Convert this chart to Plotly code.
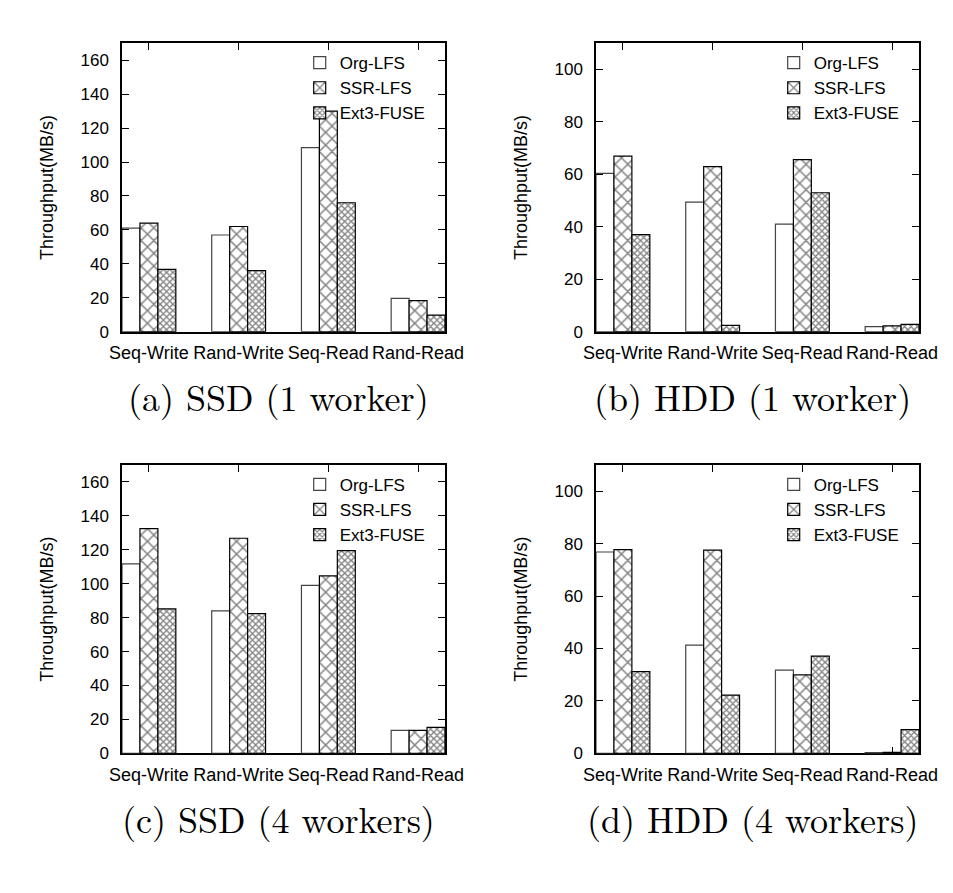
import plotly.graph_objects as go

categories = ["Seq-Write", "Rand-Write", "Seq-Read", "Rand-Read"]
series_names = ["Org-LFS", "SSR-LFS", "Ext3-FUSE"]

# throughput (MB/s) per panel, one list per series
ssd_1_org = [61, 57, 108.5, 19.6]
ssd_1_ssr = [64, 62, 130, 18.3]
ssd_1_ext3 = [36.7, 36, 76, 9.8]

hdd_1_org = [60.4, 49.4, 41, 1.9]
hdd_1_ssr = [67, 63, 65.6, 2.2]
hdd_1_ext3 = [37, 2.4, 53, 2.8]

ssd_4_org = [111.7, 84, 99, 13.5]
ssd_4_ssr = [132.5, 126.8, 104.6, 13.5]
ssd_4_ext3 = [85.2, 82.4, 119.5, 15.3]

hdd_4_org = [76.8, 41.3, 31.7, 0.3]
hdd_4_ssr = [77.7, 77.5, 29.9, 0.4]
hdd_4_ext3 = [31.2, 22.2, 37.1, 9]

captions = ["(a) SSD (1 worker)", "(b) HDD (1 worker)",
            "(c) SSD (4 workers)", "(d) HDD (4 workers)"]
y_max = [170, 110, 170, 110]
y_ticks_top = [160, 100, 160, 100]

panels = [
    (ssd_1_org, ssd_1_ssr, ssd_1_ext3),
    (hdd_1_org, hdd_1_ssr, hdd_1_ext3),
    (ssd_4_org, ssd_4_ssr, ssd_4_ext3),
    (hdd_4_org, hdd_4_ssr, hdd_4_ext3),
]

W, H = 953, 893
x_doms = [(122 / W, 445 / W), (596 / W, 919 / W)]
y_doms = [(1 - 331.7 / H, 1 - 43.3 / H), (1 - 753.3 / H, 1 - 465 / H)]

patterns = [
    dict(shape=""),
    dict(shape="x", size=9, solidity=0.3, fgcolor="black", bgcolor="white"),
    dict(shape="x", size=4.5, solidity=0.5, fgcolor="black", bgcolor="white"),
]
line_colors = ["#444", "black", "black"]

sans = "Liberation Sans, Arial, sans-serif"

fig = go.Figure()
layout = dict(
    width=W, height=H,
    margin=dict(l=0, r=0, t=0, b=0),
    paper_bgcolor="white", plot_bgcolor="white",
    barmode="group", bargap=0.4, bargroupgap=0,
    font=dict(family=sans, size=17, color="black"),
    annotations=[],
)

for i, (vals, cap) in enumerate(zip(panels, captions)):
    n = "" if i == 0 else str(i + 1)
    legend_name = "legend" + n
    row, col = divmod(i, 2)
    for name, v, pat, lc in zip(series_names, vals, patterns, line_colors):
        fig.add_trace(go.Bar(
            x=categories, y=v, name=name,
            xaxis="x" + n, yaxis="y" + n,
            legend=legend_name,
            marker=dict(color="white", pattern=pat,
                        line=dict(color=lc, width=1.2)),
        ))
    layout["xaxis" + n] = dict(
        domain=x_doms[col], anchor="y" + n, type="category",
        range=[-0.3, 3.3], showline=True, linecolor="black", linewidth=1.5,
        mirror="allticks", ticks="inside", ticklen=7, tickcolor="black",
        tickfont=dict(size=18), tickangle=0, ticklabelstandoff=4,
        layer="below traces", automargin=False,
        showgrid=False, zeroline=False, fixedrange=True,
    )
    layout["yaxis" + n] = dict(
        domain=y_doms[row], anchor="x" + n,
        range=[0, y_max[i]],
        tickvals=list(range(0, y_ticks_top[i] + 1, 20)),
        showline=True, linecolor="black", linewidth=1.5,
        mirror="allticks", ticks="inside", ticklen=7, tickcolor="black",
        tickfont=dict(size=17), ticklabelstandoff=8, automargin=False,
        title=dict(text="Throughput(MB/s)", font=dict(size=18), standoff=22),
        showgrid=False, zeroline=False, fixedrange=True,
    )
    x0, x1 = x_doms[col]
    y0, y1 = y_doms[row]
    layout[legend_name] = dict(
        x=x1 - 0.015, y=y1 - 0.002, xanchor="right", yanchor="top",
        bgcolor="rgba(0,0,0,0)", font=dict(size=17),
        tracegroupgap=0, itemwidth=30,
    )
    layout["annotations"].append(dict(
        text=cap, xref="paper", yref="paper",
        x=(x0 + x1) / 2 - 0.005, y=y0 - 0.072, xanchor="center", yanchor="middle",
        showarrow=False,
        font=dict(family="Latin Modern Roman, CMU Serif, Liberation Serif, serif", size=36),
    ))

fig.update_layout(**layout)
fig.write_html("out.html", config={"displayModeBar": False},
               post_script="document.body.style.margin = '0';")
